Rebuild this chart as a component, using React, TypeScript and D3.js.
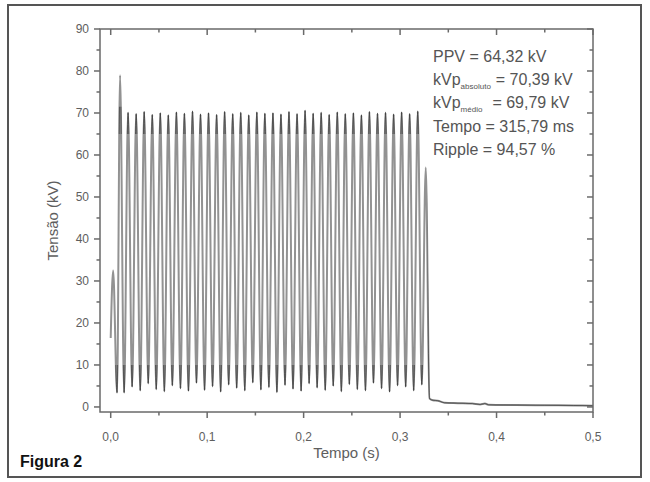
import React from 'react';
import * as d3 from 'd3';

// lead-in before the first big peak (s, kV)
const leadTimes = [0.0, 0.0025, 0.0066];
const leadValues = [16.4, 32.5, 3.4];

// peaks of the ripple (s, kV)
const peakTimes = [
  0.0097, 0.0180, 0.0264, 0.0347, 0.0431, 0.0514, 0.0597, 0.0681, 0.0764, 0.0848,
  0.0931, 0.1014, 0.1098, 0.1181, 0.1265, 0.1348, 0.1431, 0.1515, 0.1598, 0.1682,
  0.1765, 0.1848, 0.1932, 0.2015, 0.2099, 0.2182, 0.2265, 0.2349, 0.2432, 0.2516,
  0.2599, 0.2682, 0.2766, 0.2849, 0.2933, 0.3016, 0.3099, 0.3183, 0.3266,
];
const peakValues = [
  79.0, 70.1, 69.8, 70.3, 69.6, 70.0, 69.5, 70.2, 69.9, 70.4,
  69.7, 70.0, 69.6, 70.3, 69.8, 70.1, 69.5, 70.2, 69.9, 70.0,
  69.7, 70.3, 69.8, 70.6, 69.9, 70.1, 69.6, 70.2, 69.8, 70.0,
  69.5, 70.3, 69.9, 70.1, 69.7, 70.2, 69.8, 70.4, 57.0,
];

// troughs between peaks
const troughTimes = [
  0.0139, 0.0222, 0.0306, 0.0389, 0.0472, 0.0556, 0.0639, 0.0723, 0.0806, 0.0889,
  0.0973, 0.1056, 0.1140, 0.1223, 0.1306, 0.1390, 0.1473, 0.1557, 0.1640, 0.1723,
  0.1807, 0.1890, 0.1974, 0.2057, 0.2140, 0.2224, 0.2307, 0.2391, 0.2474, 0.2557,
  0.2641, 0.2724, 0.2808, 0.2891, 0.2974, 0.3058, 0.3141, 0.3225,
];
const troughValues = [
  3.4, 4.8, 3.9, 5.6, 4.2, 3.7, 5.1, 4.4, 3.8, 5.7,
  4.0, 4.9, 3.6, 5.3, 4.5, 3.9, 5.8, 4.1, 4.7, 3.5,
  5.2, 4.3, 3.8, 5.6, 4.6, 4.0, 5.0, 3.7, 5.4, 4.2,
  3.9, 5.7, 4.4, 3.6, 5.1, 4.8, 3.9, 5.3,
];

// decay after the exposure ends
const tailTimes = [0.3305, 0.334, 0.339, 0.346, 0.36, 0.375, 0.383, 0.388, 0.392, 0.42, 0.45, 0.48, 0.5];
const tailValues = [2.0, 1.6, 1.5, 1.0, 0.9, 0.8, 0.6, 0.8, 0.5, 0.45, 0.4, 0.35, 0.3];

const xTicks = [0, 0.1, 0.2, 0.3, 0.4, 0.5];
const xMinor = [0.05, 0.15, 0.25, 0.35, 0.45];
const yTicks = [0, 10, 20, 30, 40, 50, 60, 70, 80, 90];
const yMinor = [5, 15, 25, 35, 45, 55, 65, 75, 85];

const W = 650;
const H = 482;
const m = { left: 100, right: 593, top: 29, bottom: 412 };
const axisColor = '#6a6a6a';
const textColor = '#5e5e5e';
const font = '"Liberation Sans", Arial, sans-serif';

export default function App() {
  const x = d3.scaleLinear().domain([-0.0111, 0.5]).range([m.left, m.right]);
  const y = d3.scaleLinear().domain([-1.2, 90]).range([m.bottom, m.top]);

  const pts: [number, number][] = [];
  leadTimes.forEach((t, i) => pts.push([t, leadValues[i]]));
  peakTimes.forEach((t, i) => pts.push([t, peakValues[i]]));
  troughTimes.forEach((t, i) => pts.push([t, troughValues[i]]));
  tailTimes.forEach((t, i) => pts.push([t, tailValues[i]]));
  pts.sort((a, b) => a[0] - b[0]);

  const line = d3.line<[number, number]>()
    .x(d => x(d[0]))
    .y(d => y(d[1]))
    .curve(d3.curveMonotoneX);
  const path = line(pts) || '';

  const fmt = (v: number) => v.toFixed(1).replace('.', ',');
  const cut = x(0.3285);

  return (
    <div style={{ position: 'absolute', left: 0, top: 0 }}>
      <svg width={W} height={H} style={{ display: 'block', background: '#fff' }}>
        <defs>
          <clipPath id="plot">
            <rect x={m.left} y={m.top} width={m.right - m.left} height={m.bottom - m.top} />
          </clipPath>
          <clipPath id="tips">
            <rect x={m.left} y={y(71.5)} width={cut - m.left} height={y(65) - y(71.5)} />
            <rect x={m.left} y={y(10)} width={cut - m.left} height={y(2.5) - y(10)} />
            <rect x={cut} y={m.top} width={m.right - cut} height={m.bottom - m.top} />
          </clipPath>
        </defs>

        {/* outer frame */}
        <rect x={8} y={5} width={633} height={472} fill="none" stroke="#555" strokeWidth={2} />

        {/* signal */}
        <g clipPath="url(#plot)">
          <path d={path} fill="none" stroke="#929292" strokeWidth={2} />
          <g clipPath="url(#tips)">
            <path d={path} fill="none" stroke="#222" strokeWidth={1} opacity={0.55} />
          </g>
        </g>

        {/* axes frame */}
        <rect x={m.left} y={m.top} width={m.right - m.left} height={m.bottom - m.top}
          fill="none" stroke={axisColor} strokeWidth={1.5} />

        {/* x ticks */}
        {xTicks.map(t => (
          <g key={'x' + t}>
            <line x1={x(t)} x2={x(t)} y1={m.bottom} y2={m.bottom + 6} stroke={axisColor} strokeWidth={1.5} />
            <line x1={x(t)} x2={x(t)} y1={m.top} y2={m.top + 6} stroke={axisColor} strokeWidth={1.5} />
            <text x={x(t)} y={m.bottom + 29} textAnchor="middle" fontFamily={font} fontSize={12}
              fill={textColor}>{fmt(t)}</text>
          </g>
        ))}
        {xMinor.map(t => (
          <g key={'xm' + t}>
            <line x1={x(t)} x2={x(t)} y1={m.bottom} y2={m.bottom + 3.5} stroke={axisColor} strokeWidth={1.5} />
            <line x1={x(t)} x2={x(t)} y1={m.top} y2={m.top + 3.5} stroke={axisColor} strokeWidth={1.5} />
          </g>
        ))}

        {/* y ticks */}
        {yTicks.map(v => (
          <g key={'y' + v}>
            <line x1={m.left - 6} x2={m.left} y1={y(v)} y2={y(v)} stroke={axisColor} strokeWidth={1.5} />
            <line x1={m.right - 6} x2={m.right} y1={y(v)} y2={y(v)} stroke={axisColor} strokeWidth={1.5} />
            <text x={m.left - 11} y={y(v) + 4} textAnchor="end" fontFamily={font} fontSize={12}
              fill={textColor}>{v}</text>
          </g>
        ))}
        {yMinor.map(v => (
          <g key={'ym' + v}>
            <line x1={m.left - 3.5} x2={m.left} y1={y(v)} y2={y(v)} stroke={axisColor} strokeWidth={1.5} />
            <line x1={m.right - 3.5} x2={m.right} y1={y(v)} y2={y(v)} stroke={axisColor} strokeWidth={1.5} />
          </g>
        ))}

        {/* axis titles */}
        <text transform={`translate(58,${(m.top + m.bottom) / 2}) rotate(-90)`} textAnchor="middle"
          fontFamily={font} fontSize={15} fill={textColor}>Tensão (kV)</text>
        <text x={(m.left + m.right) / 2} y={458} textAnchor="middle" fontFamily={font} fontSize={15}
          fill={textColor}>Tempo (s)</text>

        {/* annotations */}
        <g fontFamily={font} fontSize={16} fill="#555">
          <text x={433} y={62}>PPV = 64,32 kV</text>
          <text x={433} y={85}>kVp<tspan fontSize={8} dy={4}>absoluto</tspan><tspan dy={-4} dx={5}>= 70,39 kV</tspan></text>
          <text x={433} y={108}>kVp<tspan fontSize={8} dy={4}>médio</tspan><tspan dy={-4} dx={10}>= 69,79 kV</tspan></text>
          <text x={433} y={132}>Tempo = 315,79 ms</text>
          <text x={433} y={155}>Ripple = 94,57 %</text>
        </g>

        <text x={20} y={467} fontFamily={font} fontSize={16} fontWeight="bold" fill="#111">Figura 2</text>
      </svg>
    </div>
  );
}
